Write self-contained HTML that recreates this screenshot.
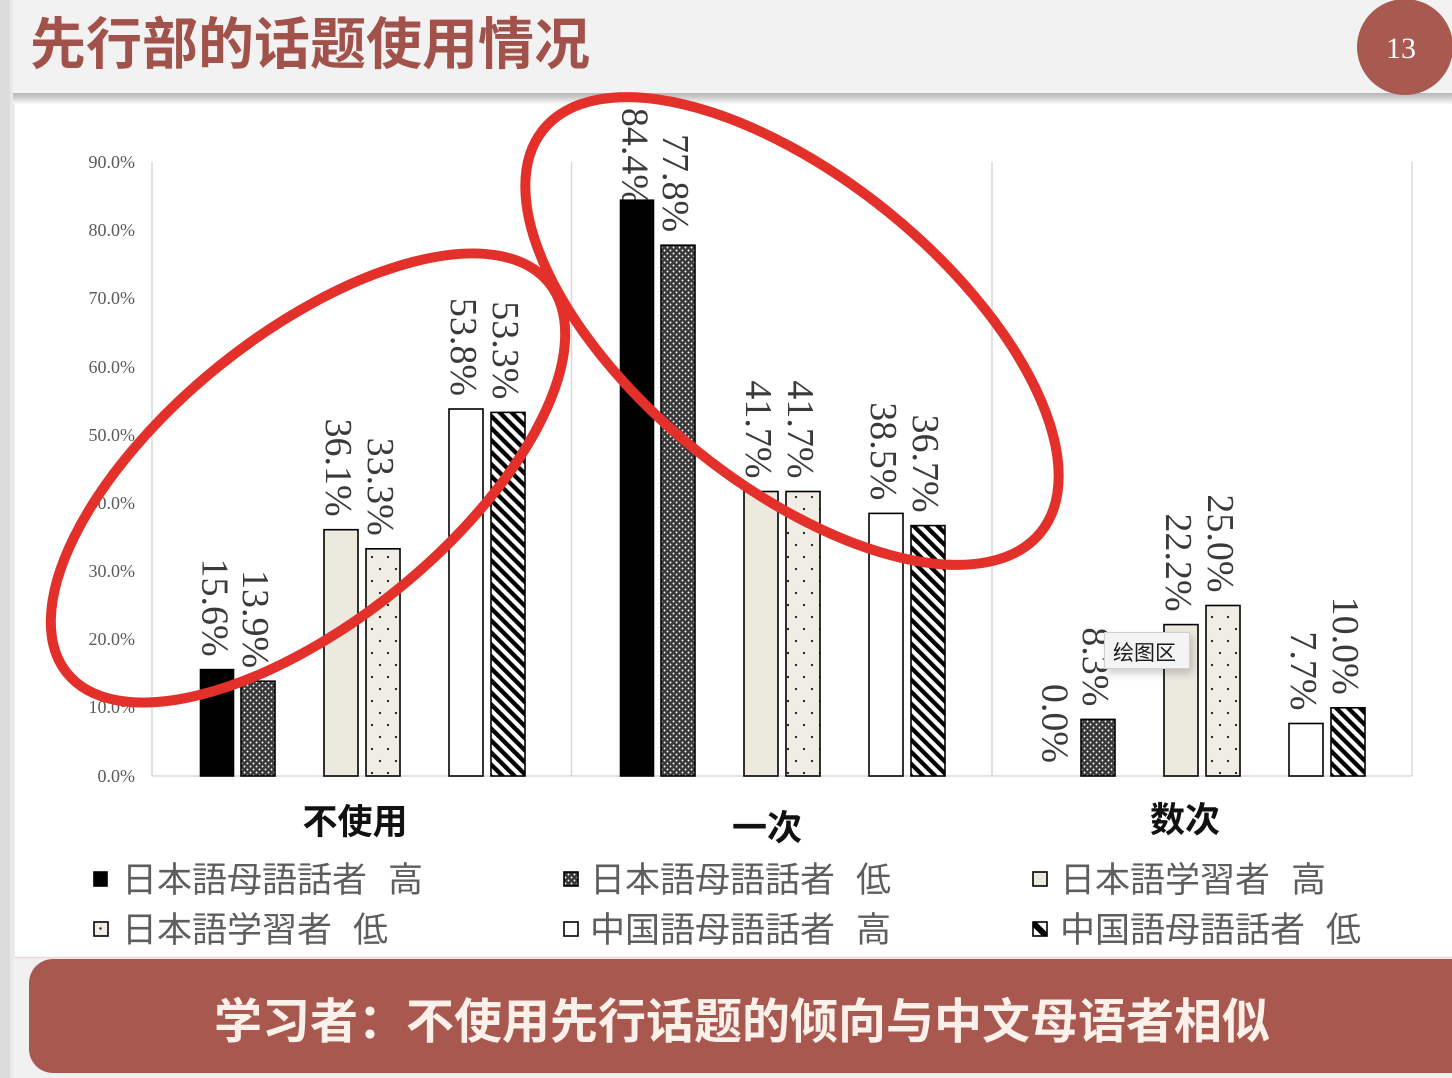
<!DOCTYPE html>
<html><head><meta charset="utf-8">
<style>
html,body{margin:0;padding:0;background:#efefef;}
svg{display:block;}
</style></head>
<body>
<svg width="1452" height="1078" viewBox="0 0 1452 1078" xmlns="http://www.w3.org/2000/svg">
<defs>
  <pattern id="pDark" width="6" height="6" patternUnits="userSpaceOnUse">
    <rect width="6" height="6" fill="#383838"/>
    <circle cx="1.5" cy="1.5" r="0.95" fill="#ffffff"/>
    <circle cx="4.5" cy="4.5" r="0.95" fill="#ffffff"/>
  </pattern>
  <pattern id="pLight" width="16" height="24" patternUnits="userSpaceOnUse">
    <rect width="16" height="24" fill="#f0ede5"/>
    <circle cx="4" cy="5" r="1.15" fill="#1e1e1e"/>
    <circle cx="12" cy="17" r="1.15" fill="#1e1e1e"/>
  </pattern>
  <pattern id="pLightM" width="15" height="15" patternUnits="userSpaceOnUse" x="93" y="921">
    <rect width="15" height="15" fill="#f0ede5"/>
    <circle cx="7.5" cy="7.5" r="1.2" fill="#1e1e1e"/>
  </pattern>
  <pattern id="pHatch" width="8.5" height="8.5" patternUnits="userSpaceOnUse" patternTransform="rotate(-45)">
    <rect width="8.5" height="8.5" fill="#ffffff"/>
    <rect width="4.3" height="8.5" fill="#000000"/>
  </pattern>
  <pattern id="pHatchM" width="15" height="15" patternUnits="userSpaceOnUse" patternTransform="rotate(-45)">
    <rect width="15" height="15" fill="#ffffff"/>
    <rect width="6" height="15" fill="#000000"/>
  </pattern>
  <linearGradient id="shadow" x1="0" y1="0" x2="0" y2="1">
    <stop offset="0" stop-color="#b4b4b4"/>
    <stop offset="0.5" stop-color="#d4d4d4"/>
    <stop offset="1" stop-color="#fafafa"/>
  </linearGradient>
  <filter id="tipShadow" x="-30%" y="-30%" width="160%" height="160%">
    <feGaussianBlur stdDeviation="4"/>
  </filter>
</defs>

<!-- page background -->
<rect x="0" y="0" width="1452" height="1078" fill="#f1f1f1"/>
<rect x="0" y="0" width="10" height="1078" fill="#dcdcdc"/>
<rect x="10" y="0" width="3" height="1078" fill="#e9e9e9"/>

<!-- header -->
<rect x="13" y="0" width="1439" height="94" fill="#f2f2f2"/>
<rect x="13" y="93" width="1439" height="11" fill="url(#shadow)"/>
<text x="30" y="64" font-family="'Liberation Sans','Noto Sans CJK SC',sans-serif" font-weight="bold" font-size="56" fill="#a1524b">先行部的话题使用情况</text>
<circle cx="1405" cy="47" r="48" fill="#a85a50"/>
<text x="1401" y="58" text-anchor="middle" font-family="'Liberation Serif',serif" font-size="30" fill="#ffffff">13</text>

<!-- chart white area -->
<rect x="14" y="104" width="1438" height="853" fill="#ffffff"/>
<line x1="14" y1="104" x2="14" y2="957" stroke="#dedede" stroke-width="1"/>
<line x1="14" y1="957.5" x2="1452" y2="957.5" stroke="#ead9d4" stroke-width="1.5"/>

<!-- grid / axes -->
<g stroke="#d9d9d9" stroke-width="1.5">
  <line x1="152" y1="162" x2="152" y2="776"/>
  <line x1="571.5" y1="162" x2="571.5" y2="776"/>
  <line x1="992" y1="162" x2="992" y2="776"/>
  <line x1="1412" y1="162" x2="1412" y2="776"/>
  <line x1="152" y1="776" x2="1412" y2="776"/>
</g>

<!-- y-axis labels -->
<g font-family="'Liberation Serif',serif" font-size="18" fill="#5a5a5a" text-anchor="end">
  <text x="135" y="168">90.0%</text>
  <text x="135" y="236">80.0%</text>
  <text x="135" y="304">70.0%</text>
  <text x="135" y="373">60.0%</text>
  <text x="135" y="441">50.0%</text>
  <text x="135" y="509">40.0%</text>
  <text x="135" y="577">30.0%</text>
  <text x="135" y="645">20.0%</text>
  <text x="135" y="713">10.0%</text>
  <text x="135" y="782">0.0%</text>
</g>

<!-- data labels (rotated) -->
<g font-family="'Liberation Serif',serif" font-size="38" fill="#3a3a3a" text-anchor="end">
  <text transform="translate(202.5,656.6) rotate(90)">15.6%</text>
  <text transform="translate(243,668.2) rotate(90)">13.9%</text>
  <text transform="translate(326,516.7) rotate(90)">36.1%</text>
  <text transform="translate(368,535.8) rotate(90)">33.3%</text>
  <text transform="translate(451,396) rotate(90)">53.8%</text>
  <text transform="translate(493,399.4) rotate(90)">53.3%</text>
  <text transform="translate(622.5,206) rotate(90)">84.4%</text>
  <text transform="translate(663,232.2) rotate(90)">77.8%</text>
  <text transform="translate(746,478.5) rotate(90)">41.7%</text>
  <text transform="translate(788,478.5) rotate(90)">41.7%</text>
  <text transform="translate(871,500.4) rotate(90)">38.5%</text>
  <text transform="translate(913,512.6) rotate(90)">36.7%</text>
  <text transform="translate(1042.5,763) rotate(90)">0.0%</text>
  <text transform="translate(1083,706.4) rotate(90)">8.3%</text>
  <text transform="translate(1166,611.6) rotate(90)">22.2%</text>
  <text transform="translate(1208,592.5) rotate(90)">25.0%</text>
  <text transform="translate(1291,710.5) rotate(90)">7.7%</text>
  <text transform="translate(1333,694.8) rotate(90)">10.0%</text>
</g>

<!-- bars -->
<g stroke="#000" stroke-width="1.6">
  <!-- 不使用 -->
  <rect x="200.5" y="669.6" width="33" height="106.4" fill="#000"/>
  <rect x="241" y="681.2" width="34" height="94.8" fill="url(#pDark)"/>
  <rect x="324" y="529.7" width="34" height="246.3" fill="#ece9df"/>
  <rect x="366" y="548.8" width="34" height="227.2" fill="url(#pLight)"/>
  <rect x="449" y="409" width="34" height="367" fill="#ffffff"/>
  <rect x="491" y="412.4" width="34" height="363.6" fill="url(#pHatch)"/>
  <!-- 一次 -->
  <rect x="620.5" y="200.2" width="33" height="575.8" fill="#000"/>
  <rect x="661" y="245.2" width="34" height="530.8" fill="url(#pDark)"/>
  <rect x="744" y="491.5" width="34" height="284.5" fill="#ece9df"/>
  <rect x="786" y="491.5" width="34" height="284.5" fill="url(#pLight)"/>
  <rect x="869" y="513.4" width="34" height="262.6" fill="#ffffff"/>
  <rect x="911" y="525.6" width="34" height="250.4" fill="url(#pHatch)"/>
  <!-- 数次 -->
  <rect x="1081" y="719.4" width="34" height="56.6" fill="url(#pDark)"/>
  <rect x="1164" y="624.6" width="34" height="151.4" fill="#ece9df"/>
  <rect x="1206" y="605.5" width="34" height="170.5" fill="url(#pLight)"/>
  <rect x="1289" y="723.5" width="34" height="52.5" fill="#ffffff"/>
  <rect x="1331" y="707.8" width="34" height="68.2" fill="url(#pHatch)"/>
</g>

<!-- category labels -->
<g font-family="'Liberation Sans','Noto Sans CJK SC',sans-serif" font-weight="bold" font-size="35" fill="#111" text-anchor="middle">
  <text x="355" y="834">不使用</text>
  <text x="767" y="840">一次</text>
  <text x="1185" y="832">数次</text>
</g>

<!-- legend -->
<g stroke="#000" stroke-width="1.6">
  <rect x="94" y="872" width="13" height="14" fill="#000"/>
  <rect x="564" y="872" width="14" height="14" fill="url(#pDark)"/>
  <rect x="1033" y="872" width="14" height="14" fill="#ece9df"/>
  <rect x="94" y="922" width="14" height="14" fill="url(#pLightM)"/>
  <rect x="564" y="922" width="14" height="14" fill="#ffffff"/>
  <rect x="1033" y="922" width="14" height="14" fill="url(#pHatchM)"/>
</g>
<g font-family="'Liberation Sans','Noto Sans CJK JP',sans-serif" font-size="35" fill="#5e5e5e">
  <text x="122" y="892">日本語母語話者</text><text x="388" y="892">高</text>
  <text x="590" y="892">日本語母語話者</text><text x="856" y="892">低</text>
  <text x="1060" y="892">日本語学習者</text><text x="1291" y="892">高</text>
  <text x="122" y="942">日本語学習者</text><text x="353" y="942">低</text>
  <text x="590" y="942">中国語母語話者</text><text x="856" y="942">高</text>
  <text x="1060" y="942">中国語母語話者</text><text x="1326" y="942">低</text>
</g>

<!-- tooltip -->
<rect x="1107" y="636" width="86" height="38" fill="#000" opacity="0.18" filter="url(#tipShadow)"/>
<rect x="1104.5" y="632.5" width="85" height="36" fill="#f4f4f4" stroke="#cfcfcf" stroke-width="1"/>
<text x="1113" y="660" font-family="'Liberation Sans','Noto Sans CJK SC',sans-serif" font-size="21" fill="#1a1a1a">绘图区</text>

<!-- red ellipses -->
<g fill="none" stroke="#e3302a" stroke-width="10">
  <ellipse cx="308" cy="478" rx="310" ry="143" transform="rotate(-39 308 478)"/>
  <ellipse cx="792" cy="331" rx="320" ry="153" transform="rotate(39 792 331)"/>
</g>

<!-- bottom banner -->
<rect x="29" y="959" width="1450" height="114" rx="24" ry="24" fill="#a9584f"/>
<text x="742" y="1038" text-anchor="middle" font-family="'Liberation Sans','Noto Sans CJK SC',sans-serif" font-weight="bold" font-size="48" fill="#fbf0ea">学习者：不使用先行话题的倾向与中文母语者相似</text>
</svg>
</body></html>
